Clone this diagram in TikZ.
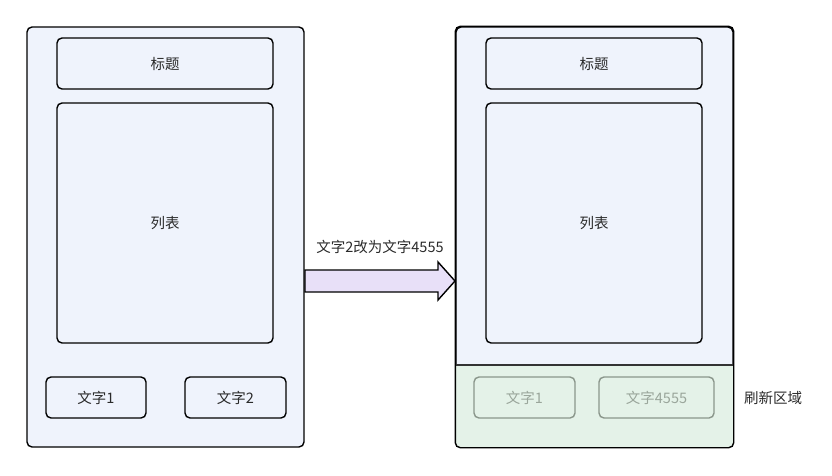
\documentclass[tikz,border=0pt]{standalone}
\usepackage{fontspec}
\setmainfont{Noto Sans CJK SC}
\usetikzlibrary{positioning}

\definecolor{framefill}{HTML}{EFF3FC}
\definecolor{arrowfill}{HTML}{E8E0F8}
\definecolor{greenfill}{HTML}{E4F2E8}
\definecolor{greenline}{HTML}{8A968B}
\definecolor{greentext}{HTML}{9AA69B}
\definecolor{inktext}{HTML}{2A2A2A}

\tikzset{
  frame/.style={draw=black,line width=1.4pt,rounded corners=5pt,fill=framefill},
  box/.style={draw=black,line width=1.4pt,rounded corners=5pt,fill=framefill,
    font=\fontsize{14.5}{17}\selectfont,text=inktext,inner sep=0pt},
  oldbox/.style={draw=greenline,line width=1.4pt,rounded corners=5pt,fill=greenfill,
    font=\fontsize{14.5}{17}\selectfont,text=greentext,inner sep=0pt},
}

\begin{document}
\begin{tikzpicture}[x=1pt,y=-1pt]

\useasboundingbox (0,0) rectangle (832,476);

% left screen
\node[frame,minimum width=277pt,minimum height=420pt] (lframe) at (165.5,237) {};
\node[box,minimum width=216pt,minimum height=51pt] (ltitle) at (165,63.5) {标题};
\node[box,minimum width=216pt,minimum height=240pt] (llist) at (165,223) {列表};
\node[box,minimum width=100pt,minimum height=41pt] (ltext1) at (96,397.5) {文字1};
\node[box,minimum width=101pt,minimum height=41pt] (ltext2) at (235.5,397.5) {文字2};

% right screen
\node[frame,minimum width=277pt,minimum height=420pt] (rframe) at (594.5,237) {};
\fill[greenfill,rounded corners=5pt] (rframe.south west) rectangle (rframe.east |- 0,365);
\fill[greenfill] (456,365) rectangle (733,380);
\draw[line width=1.4pt,rounded corners=5pt] (rframe.south west) rectangle (rframe.north east);
\draw[line width=1.2pt,black!80] (456,365) -- (733,365);
\node[box,minimum width=216pt,minimum height=51pt] (rtitle) at (594,63.5) {标题};
\node[box,minimum width=216pt,minimum height=240pt] (rlist) at (594,223) {列表};
\node[oldbox,minimum width=101pt,minimum height=41pt] (rtext1) at (524.5,397.5) {文字1};
\node[oldbox,minimum width=115pt,minimum height=41pt] (rtext2) at (656.5,397.5) {文字4555};
\node[font=\fontsize{14.5}{17}\selectfont,text=inktext] (refresh) at (773,397.5) {刷新区域};

% change arrow
\draw[line width=1.4pt,fill=arrowfill,line join=miter]
  (305,270) -- (438,270) -- (438,262) -- (455,281) -- (438,300) -- (438,292) -- (305,292) -- cycle;
\node[font=\fontsize{14.5}{17}\selectfont,text=inktext] (change) at (380,247) {文字2改为文字4555};

\end{tikzpicture}
\end{document}
